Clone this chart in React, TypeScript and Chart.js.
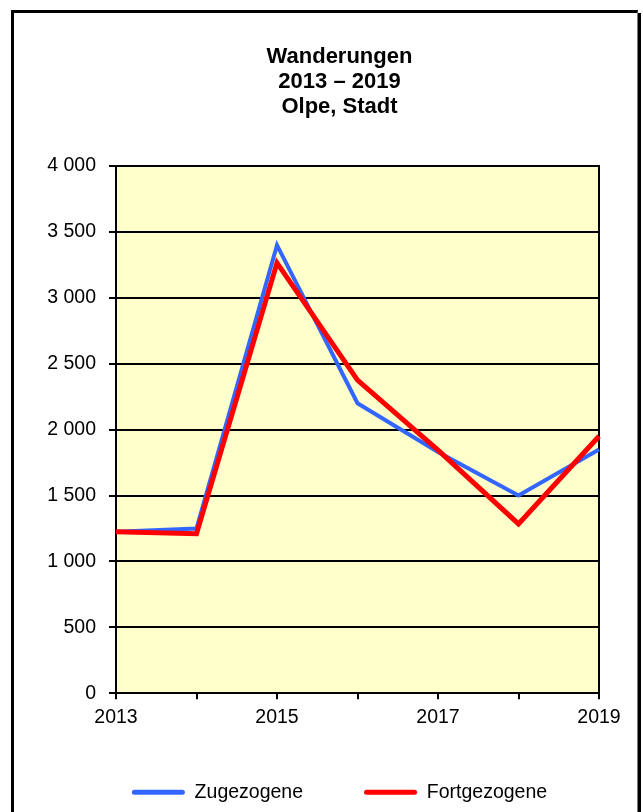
import React, { useEffect, useRef } from 'react';
import { Chart, registerables } from 'chart.js';

Chart.register(...registerables);

// ---- data ----
const years = ['2013', '2014', '2015', '2016', '2017', '2018', '2019'];
const zugezogene = [1225, 1250, 3400, 2200, 1830, 1500, 1850];
const fortgezogene = [1225, 1210, 3265, 2375, 1845, 1285, 1950];
const seriesNames = ['Zugezogene', 'Fortgezogene'];
const seriesColors = ['#3366FF', '#FF0000'];
const titleLines = ['Wanderungen', '2013 – 2019', 'Olpe, Stadt'];
const shownYearLabels = ['2013', '2015', '2017', '2019'];
const yMin = 0;
const yMax = 4000;
const yStep = 500;

const FONT = "'Liberation Sans', Arial, Helvetica, sans-serif";

function formatThousands(v: number): string {
  const n = Math.round(v);
  if (n < 1000) return String(n);
  return `${Math.floor(n / 1000)} ${String(n % 1000).padStart(3, '0')}`;
}

const plotFrame = {
  id: 'plotFrame',
  beforeDraw(chart: any) {
    const { ctx, chartArea: a } = chart;
    ctx.save();
    ctx.fillStyle = '#FFFFCC';
    ctx.fillRect(a.left, a.top, a.right - a.left, a.bottom - a.top);
    ctx.restore();
  },
  beforeDatasetsDraw(chart: any) {
    const { ctx, chartArea: a } = chart;
    ctx.save();
    ctx.strokeStyle = '#000';
    ctx.lineWidth = 2;
    ctx.beginPath();
    ctx.moveTo(a.left, a.top);
    ctx.lineTo(a.right, a.top);
    ctx.lineTo(a.right, a.bottom);
    ctx.stroke();
    ctx.restore();
  },
};

export default function App() {
  const canvasRef = useRef<HTMLCanvasElement | null>(null);

  useEffect(() => {
    if (!canvasRef.current) return;
    const chart = new Chart(canvasRef.current, {
      type: 'line',
      data: {
        labels: years,
        datasets: [
          {
            label: seriesNames[0],
            data: zugezogene,
            borderColor: seriesColors[0],
            backgroundColor: seriesColors[0],
            borderWidth: 4,
            pointRadius: 0,
            tension: 0,
            order: 1,
            yAxisID: 'y',
          },
          {
            label: seriesNames[1],
            data: fortgezogene,
            borderColor: seriesColors[1],
            backgroundColor: seriesColors[1],
            borderWidth: 5,
            pointRadius: 0,
            tension: 0,
            order: 0,
            yAxisID: 'y',
          },
        ],
      },
      options: {
        responsive: false,
        animation: false,
        devicePixelRatio: 1,
        layout: { padding: { left: 45, right: 9, top: 0, bottom: 0 } },
        plugins: {
          title: {
            display: true,
            text: titleLines,
            color: '#000',
            font: { family: FONT, size: 22, weight: 'bold', lineHeight: 25 / 22 },
            padding: { top: 44.5, bottom: 46.5 },
          },
          legend: {
            display: true,
            position: 'bottom',
            maxHeight: 82,
            title: {
              display: true,
              text: '',
              font: { family: FONT, size: 12, lineHeight: 1.2 },
              padding: { top: -25.15, bottom: 0 },
            },
            labels: {
              boxWidth: 53,
              boxHeight: 5,
              padding: 61,
              color: '#000',
              font: { family: FONT, size: 19.5 },
              generateLabels: (c: any) =>
                c.data.datasets.map((ds: any, i: number) => ({
                  text: ds.label,
                  fillStyle: ds.borderColor,
                  strokeStyle: ds.borderColor,
                  lineWidth: 0,
                  hidden: false,
                  datasetIndex: i,
                  borderRadius: 2.5,
                  fontColor: '#000',
                })),
            },
          },
          tooltip: { enabled: false },
        },
        scales: {
          x: {
            type: 'category',
            offset: false,
            afterFit: (s: any) => {
              s.height = 39;
            },
            grid: {
              display: true,
              drawOnChartArea: false,
              drawTicks: true,
              tickLength: 6,
              color: '#000',
              lineWidth: 2,
            },
            border: { display: true, color: '#000', width: 2 },
            ticks: {
              autoSkip: false,
              maxRotation: 0,
              minRotation: 0,
              padding: 7,
              color: '#000',
              font: { family: FONT, size: 19.5 },
              callback: function (this: any, _v: any, index: number) {
                const lab = years[index];
                return shownYearLabels.includes(lab) ? lab : '';
              },
            },
          },
          y: {
            min: yMin,
            max: yMax,
            position: 'left',
            afterFit: (s: any) => {
              s.width = 71;
            },
            grid: {
              display: true,
              drawOnChartArea: true,
              drawTicks: true,
              tickLength: 7,
              color: '#000',
              lineWidth: 2,
            },
            border: { display: true, color: '#000', width: 2 },
            ticks: {
              stepSize: yStep,
              padding: 13,
              color: '#000',
              font: { family: FONT, size: 19.5 },
              callback: (v: any) => formatThousands(Number(v)),
            },
          },
          yRightSpace: {
            type: 'linear',
            position: 'right',
            display: true,
            min: yMin,
            max: yMax,
            afterFit: (s: any) => {
              s.width = 35;
            },
            grid: { display: false, drawOnChartArea: false, drawTicks: false },
            border: { display: false },
            ticks: { display: false },
          },
        },
      },
      plugins: [plotFrame],
    } as any);
    return () => chart.destroy();
  }, []);

  return (
    <div
      style={{
        position: 'fixed',
        left: 0,
        top: 0,
        width: 643,
        height: 812,
        overflow: 'hidden',
        background: '#fff',
      }}
    >
      <div
        style={{
          position: 'absolute',
          left: 11,
          top: 10,
          width: 627,
          height: 900,
          boxSizing: 'border-box',
          borderTop: '3px solid #000',
          borderLeft: '3px solid #000',
          borderRight: '1px solid #777',
          boxShadow: '3px 3px 0 #000',
        }}
      />
      <canvas
        ref={canvasRef}
        width={643}
        height={812}
        style={{ position: 'absolute', left: 0, top: 0, width: 643, height: 812 }}
      />
    </div>
  );
}
